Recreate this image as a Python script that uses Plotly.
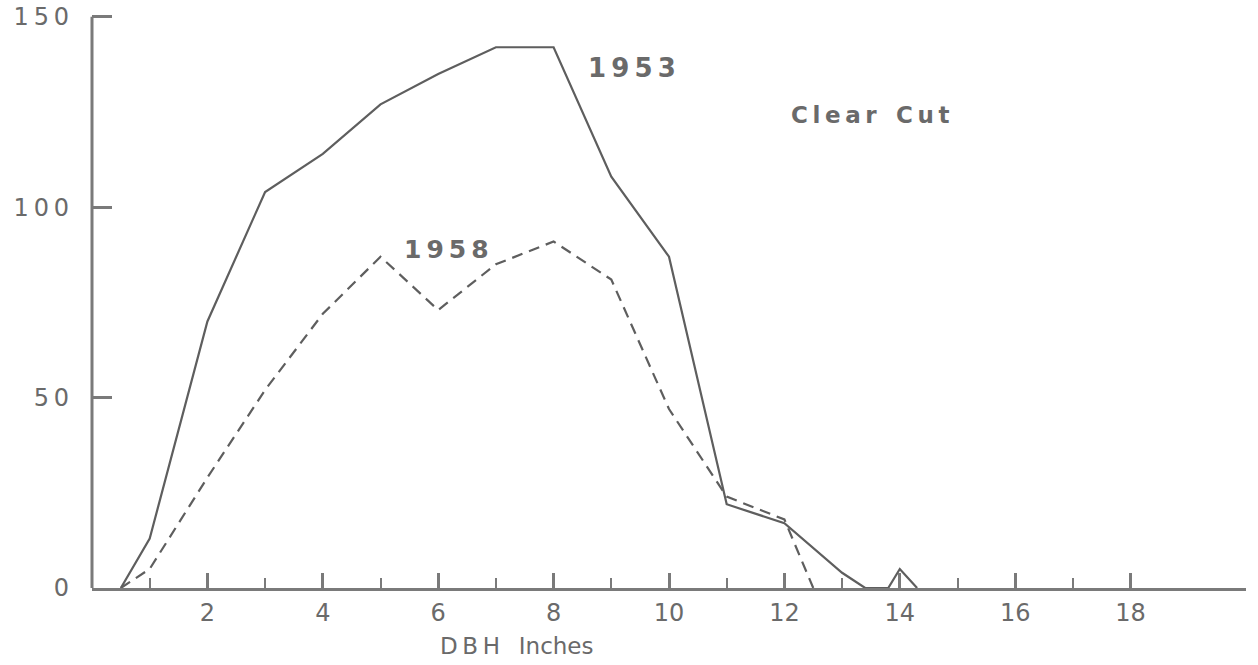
import plotly.graph_objects as go

# Data
dbh_1953 = [0.5, 1, 2, 3, 4, 5, 6, 7, 8, 9, 10, 11, 12, 13, 13.4, 13.8, 14, 14.3]
trees_1953 = [0, 13, 70, 104, 114, 127, 135, 142, 142, 108, 87, 22, 17, 4, 0, 0, 5, 0]

dbh_1958 = [0.5, 1, 2, 3, 4, 5, 6, 7, 8, 9, 10, 11, 12, 12.5]
trees_1958 = [0, 5, 29, 52, 72, 87, 73, 85, 91, 81, 47, 24, 18, 0]

x_major = [2, 4, 6, 8, 10, 12, 14, 16, 18]
x_minor = [1, 3, 5, 7, 9, 11, 13, 15, 17]
y_ticks = [0, 50, 100, 150]
y_ticktext = ["0", "5\u20090", "1\u20090\u20090", "1\u20095\u20090"]

LINE = "#5e5e5e"
AXIS = "#7a7a7a"
TEXT = "#6a6a6a"
FONT = "DejaVu Sans"

fig = go.Figure()
fig.add_trace(go.Scatter(x=dbh_1953, y=trees_1953, mode="lines",
                         line=dict(color=LINE, width=2.2), name="1953"))
fig.add_trace(go.Scatter(x=dbh_1958, y=trees_1958, mode="lines",
                         line=dict(color=LINE, width=2.2, dash="11px,7px"), name="1958"))

fig.add_annotation(x=9.36, y=136.6, text="1\u20099\u20095\u20093", showarrow=False,
                   font=dict(family=FONT, size=26, color=TEXT, weight="bold"))
fig.add_annotation(x=6.15, y=88.8, text="1\u20099\u20095\u20098", showarrow=False,
                   font=dict(family=FONT, size=25, color=TEXT, weight="bold"))
fig.add_annotation(x=13.5, y=124.2, text="C\u2009l\u2009e\u2009a\u2009r \u2002C\u2009u\u2009t",
                   showarrow=False,
                   font=dict(family=FONT, size=23, color=TEXT, weight="bold"))
fig.add_annotation(x=7.36, y=-0.10, xref="x", yref="paper", yanchor="middle",
                   text="D\u2009B\u2009H \u2002Inches", showarrow=False,
                   font=dict(family=FONT, size=23, color=TEXT))

fig.update_layout(
    width=1258, height=665,
    margin=dict(l=92, r=12, t=13, b=77, autoexpand=False),
    paper_bgcolor="white", plot_bgcolor="white",
    showlegend=False,
    font=dict(family=FONT, color=TEXT),
    xaxis=dict(range=[0, 20], showgrid=False, zeroline=False, automargin=False,
               showline=True, linecolor=AXIS, linewidth=3,
               tickmode="array", tickvals=x_major,
               ticktext=[str(v) for v in x_major],
               ticks="inside", ticklen=15, tickwidth=3, tickcolor=AXIS,
               tickfont=dict(size=24, color=TEXT), ticklabelstandoff=1,
               minor=dict(tickmode="array", tickvals=x_minor, ticks="inside",
                          ticklen=10, tickwidth=2, tickcolor=AXIS, showgrid=False)),
    yaxis=dict(range=[0, 151], showgrid=False, zeroline=False, automargin=False,
               showline=False,
               tickmode="array", tickvals=y_ticks, ticktext=y_ticktext,
               ticks="inside", ticklen=20, tickwidth=3, tickcolor=AXIS,
               tickfont=dict(size=24, color=TEXT), ticklabelstandoff=22),
)

# vertical axis line from 0 to 150 only (as drawn in the original)
fig.add_shape(type="line", xref="paper", yref="y", x0=0, x1=0, y0=0, y1=150,
              line=dict(color=AXIS, width=3))

fig.write_html("out.html")
